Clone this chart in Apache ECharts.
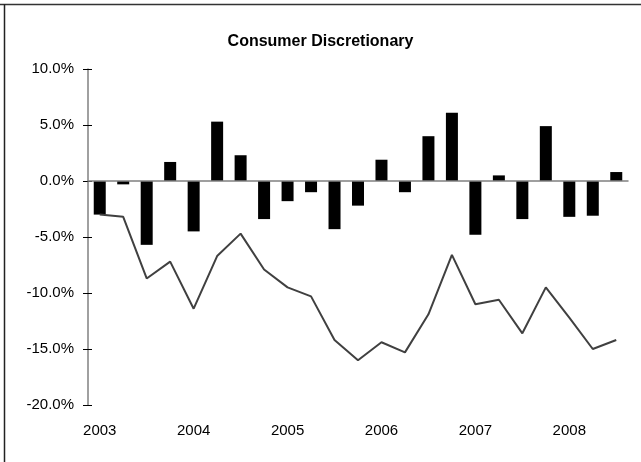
<!DOCTYPE html>
<html>
<head>
<meta charset="utf-8">
<style>
  html, body { margin: 0; padding: 0; background: #fff; }
  #main { width: 641px; height: 462px; }
</style>
<script src="https://cdn.jsdelivr.net/npm/echarts@6/dist/echarts.min.js"></script>
</head>
<body>
<div id="main"></div>
<script>
// quarterly periods, 2003 Q1 .. 2008 Q3
var quarters = [
  '2003 Q1', '2003 Q2', '2003 Q3', '2003 Q4',
  '2004 Q1', '2004 Q2', '2004 Q3', '2004 Q4',
  '2005 Q1', '2005 Q2', '2005 Q3', '2005 Q4',
  '2006 Q1', '2006 Q2', '2006 Q3', '2006 Q4',
  '2007 Q1', '2007 Q2', '2007 Q3', '2007 Q4',
  '2008 Q1', '2008 Q2', '2008 Q3'
];
// quarterly relative return (bars), %
var quarterly = [-3.0, -0.3, -5.7, 1.7, -4.5, 5.3, 2.3, -3.4,
  -1.8, -1.0, -4.3, -2.2, 1.9, -1.0, 4.0, 6.1,
  -4.8, 0.5, -3.4, 4.9, -3.2, -3.1, 0.8];
// cumulative relative return (line), %
var cumulative = [-3.0, -3.2, -8.7, -7.2, -11.4, -6.7, -4.7, -7.9,
  -9.5, -10.3, -14.2, -16.0, -14.4, -15.3, -11.9, -6.6,
  -11.0, -10.6, -13.6, -9.5, -12.2, -15.0, -14.2];
var yTicks = [-20, -15, -10, -5, 0, 5, 10];

var chart = echarts.init(document.getElementById('main'));
var font = 'Liberation Sans, Arial, sans-serif';

chart.setOption({
  animation: false,
  backgroundColor: '#fff',
  title: {
    text: 'Consumer Discretionary',
    left: 'center',
    top: 29,
    textStyle: {
      fontFamily: font,
      fontWeight: 'bold',
      fontSize: 16,
      color: '#000'
    }
  },
  graphic: [
    { type: 'line', shape: { x1: 0, y1: 4.5, x2: 641, y2: 4.5 }, style: { stroke: '#333', lineWidth: 1.5 } },
    { type: 'line', shape: { x1: 4.5, y1: 4, x2: 4.5, y2: 462 }, style: { stroke: '#222', lineWidth: 1.5 } }
  ],
  grid: { left: 88, top: 69, width: 540, height: 336 },
  xAxis: [{
    // zero line with year-boundary ticks
    type: 'category',
    data: quarters,
    axisLine: { onZero: true, lineStyle: { color: '#808080', width: 1.5 } },
    axisTick: { interval: 3, length: 5, lineStyle: { color: '#000' } },
    axisLabel: { show: false },
    z: 5
  }, {
    // upper half of the crossing ticks
    type: 'category',
    data: quarters,
    axisLine: { onZero: true, show: false },
    axisTick: { interval: 3, inside: true, length: 3, lineStyle: { color: '#000' } },
    axisLabel: { show: false },
    z: 5
  }, {
    // year labels along the bottom
    type: 'category',
    data: quarters,
    position: 'bottom',
    axisLine: { onZero: false, show: false },
    axisTick: { show: false },
    axisLabel: {
      interval: 3,
      margin: 18,
      fontSize: 15,
      fontFamily: font,
      color: '#000',
      formatter: function (v) { return v.split(' ')[0]; }
    }
  }],
  yAxis: [{
    type: 'value',
    min: yTicks[0],
    max: yTicks[yTicks.length - 1],
    interval: 5,
    axisLine: { show: true, lineStyle: { color: '#808080', width: 1.5 } },
    axisTick: { show: true, length: 5, lineStyle: { color: '#000' } },
    splitLine: { show: false },
    axisLabel: {
      margin: 14,
      fontSize: 15,
      fontFamily: font,
      color: '#000',
      formatter: function (v) { return v.toFixed(1) + '%'; }
    }
  }, {
    // right half of the crossing ticks
    type: 'value',
    position: 'left',
    min: yTicks[0],
    max: yTicks[yTicks.length - 1],
    interval: 5,
    axisLine: { show: false },
    axisTick: { show: true, inside: true, length: 4, lineStyle: { color: '#000' } },
    splitLine: { show: false },
    axisLabel: { show: false }
  }],
  series: [{
    type: 'bar',
    xAxisIndex: 0,
    data: quarterly,
    barWidth: 12,
    itemStyle: { color: '#000' },
    z: 3
  }, {
    type: 'line',
    xAxisIndex: 0,
    data: cumulative,
    symbol: 'none',
    lineStyle: { color: '#404040', width: 2 },
    z: 4
  }]
});
</script>
</body>
</html>
